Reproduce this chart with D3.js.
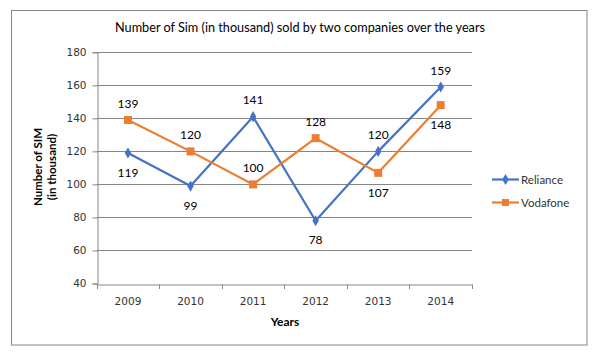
<!DOCTYPE html>
<html><head><meta charset="utf-8">
<script src="https://cdn.jsdelivr.net/npm/d3@7"></script>
<style>body{margin:0;background:#fff}svg{display:block}</style>
</head><body>
<svg id="c" width="616" height="356"></svg>
<script>
const years = ["2009","2010","2011","2012","2013","2014"];
const reliance = [119, 99, 141, 78, 120, 159];
const vodafone = [139, 120, 100, 128, 107, 148];
const yTicks = [40, 60, 80, 100, 120, 140, 160, 180];
const relianceLabelPos = ["below","below","above","below","above","above"];
const vodafoneLabelPos = ["above","above","above","above","below","below"];

(function(){
const svg = d3.select("#c");
const pLeft = 96.7, pRight = 472, pTop = 52.3, pBottom = 283.5;
const gridColor = "#868686";
const blue = "#4472C4", orange = "#ED7D31";
const labelFont = "Lato, 'Open Sans', sans-serif";
const tickFont = "'DejaVu Sans', Verdana, sans-serif";

svg.append("rect").attr("x", 11.5).attr("y", 10.5).attr("width", 575.5).attr("height", 334.5)
  .attr("fill", "#fff").attr("stroke", gridColor).attr("stroke-width", 1);

const x = d3.scaleBand().domain(years).range([pLeft, pRight]);
const y = d3.scaleLinear().domain([40, 180]).range([pBottom, pTop]);

// gridlines
svg.append("g").selectAll("line").data(yTicks.slice(1)).join("line")
  .attr("x1", pLeft).attr("x2", pRight)
  .attr("y1", d => Math.round(y(d)) + 0.5).attr("y2", d => Math.round(y(d)) + 0.5)
  .attr("stroke", gridColor).attr("stroke-width", 1);

// y axis
const yAxis = svg.append("g").attr("transform", `translate(${Math.round(pLeft)+0.5},0)`)
  .call(d3.axisLeft(y).tickValues(yTicks).tickSizeOuter(0).tickSize(5).tickPadding(6));
yAxis.select(".domain").attr("stroke", gridColor);
yAxis.selectAll(".tick line").attr("stroke", gridColor);
yAxis.selectAll(".tick text").attr("font-family", tickFont).attr("font-size", 10.5).attr("fill", "#333");

// x axis
const xAxis = svg.append("g").attr("transform", `translate(0,${Math.round(pBottom)+0.5})`)
  .call(d3.axisBottom(x).tickSize(0).tickPadding(13));
xAxis.select(".domain").attr("stroke", gridColor);
xAxis.selectAll(".tick text").attr("font-family", tickFont).attr("font-size", 10.5).attr("fill", "#333");
svg.append("g").selectAll("line").data(years.concat(["end"])).join("line")
  .attr("x1", (d,i) => Math.round(pLeft + i * x.bandwidth()) + 0.5)
  .attr("x2", (d,i) => Math.round(pLeft + i * x.bandwidth()) + 0.5)
  .attr("y1", Math.round(pBottom)+0.5).attr("y2", Math.round(pBottom) + 5)
  .attr("stroke", gridColor);

// title
svg.append("text").attr("x", 300).attr("y", 32).attr("text-anchor", "middle")
  .attr("font-family", labelFont).attr("font-size", 13.5).attr("fill", "#000")
  .attr("textLength", 370).attr("lengthAdjust", "spacingAndGlyphs")
  .text("Number of Sim (in thousand) sold by two companies over the years");

// axis titles
svg.append("text").attr("x", 285).attr("y", 326).attr("text-anchor", "middle")
  .attr("font-family", labelFont).attr("font-weight", "bold").attr("font-size", 12).text("Years");
const yt = svg.append("text").attr("transform", "translate(42,167) rotate(-90)")
  .attr("text-anchor", "middle").attr("font-family", labelFont).attr("font-weight", "bold").attr("font-size", 11.5);
yt.append("tspan").attr("x", 0).attr("dy", 0).text("Number of SIM");
yt.append("tspan").attr("x", 0).attr("dy", 13.5).text("(in thousand)");

const cx = d => x(d) + x.bandwidth() / 2;
const line = d3.line().x(d => cx(d[0])).y(d => y(d[1]));

function drawSeries(vals, color, shape, pos) {
  const data = years.map((yr, i) => [yr, vals[i]]);
  svg.append("path").datum(data).attr("d", line).attr("fill", "none")
    .attr("stroke", color).attr("stroke-width", 2.2).attr("stroke-linejoin", "round");
  const sym = shape === "diamond" ? d3.symbol().type(d3.symbolDiamond).size(36)
                                  : d3.symbol().type(d3.symbolSquare).size(64);
  svg.append("g").selectAll("path").data(data).join("path")
    .attr("transform", d => `translate(${cx(d[0])},${y(d[1])})`)
    .attr("d", sym)
    .attr("fill", color);
  svg.append("g").selectAll("text").data(data).join("text")
    .attr("x", d => cx(d[0]))
    .attr("y", (d, i) => y(d[1]) + (pos[i] === "above" ? -16.5 : 19.5))
    .attr("dy", "0.35em").attr("text-anchor", "middle")
    .attr("font-family", labelFont).attr("font-size", 12).attr("fill", "#000")
    .text(d => d[1]);
}
drawSeries(reliance, blue, "diamond", relianceLabelPos);
drawSeries(vodafone, orange, "square", vodafoneLabelPos);

// legend
const legend = [["Reliance", blue, "diamond"], ["Vodafone", orange, "square"]];
const lg = svg.append("g").selectAll("g").data(legend).join("g")
  .attr("transform", (d, i) => `translate(492,${179.5 + i * 23})`);
lg.append("line").attr("x1", 0).attr("x2", 27).attr("stroke", d => d[1]).attr("stroke-width", 2.2);
lg.append("path").attr("transform", "translate(13.5,0)")
  .attr("d", d => d[2] === "diamond" ? d3.symbol().type(d3.symbolDiamond).size(36)() : d3.symbol().type(d3.symbolSquare).size(50)())
  .attr("fill", d => d[1]);
lg.append("text").attr("x", 29).attr("dy", "0.35em").attr("font-family", labelFont)
  .attr("font-size", 11.5).attr("fill", "#333").text(d => d[0]);
})();
</script>
</body></html>
